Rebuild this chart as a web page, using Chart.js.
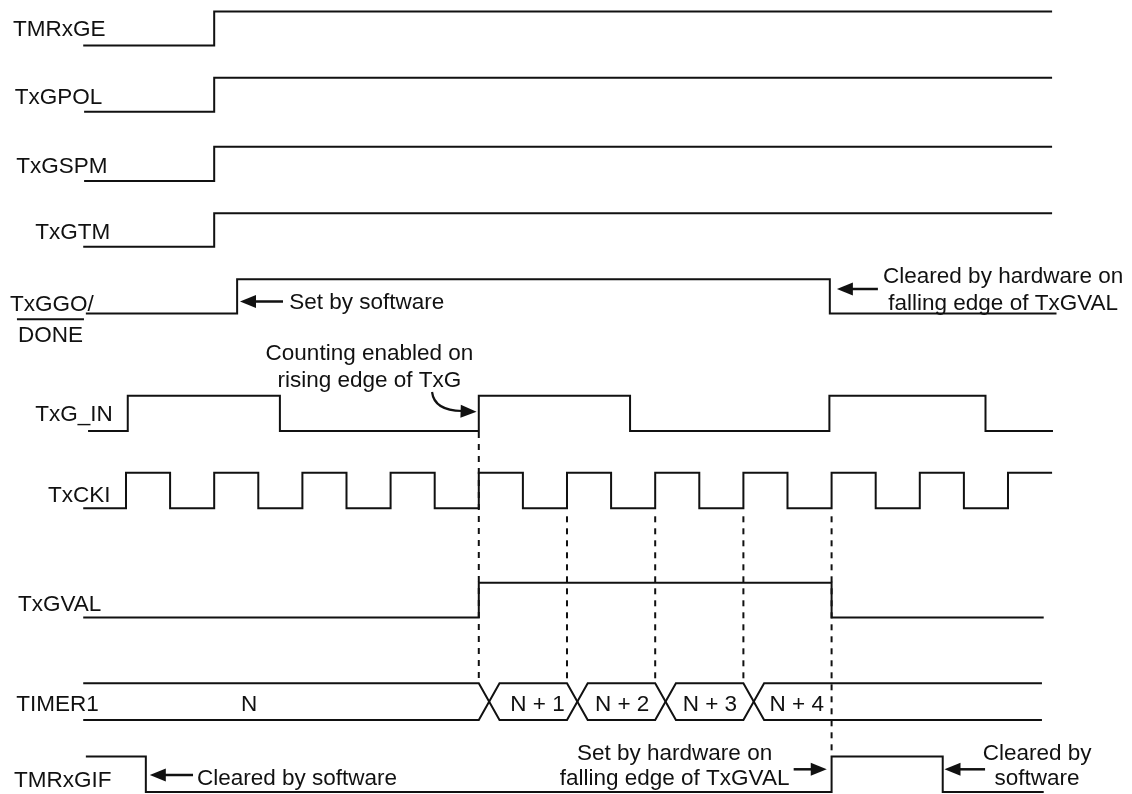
<!DOCTYPE html>
<html>
<head>
<meta charset="utf-8">
<title>Timer1 gate single-pulse timing</title>
<script src="https://cdn.jsdelivr.net/npm/chart.js@4.4.0/dist/chart.umd.min.js"></script>
<style>
  html, body { margin: 0; padding: 0; background: #fff; }
  #wrap { width: 1132px; height: 794px; }
</style>
</head>
<body>
<div id="wrap"><canvas id="timing" width="1132" height="794"></canvas></div>
<script>
// x axis: time in TxCKI half periods, t = 0 at the first rising edge of TxCKI
// y axis: layout units from the top of the figure
const tRange = [-2.857, 22.812];

// edge times (t) of each signal
const tmrxgeEdges = [2.0];
const txgpolEdges = [2.0];
const txgspmEdges = [2.0];
const txgtmEdges = [2.0];
const txggoEdges = [2.52, 15.96];
const txginEdges = [0.04, 3.49, 8.0, 11.43, 15.95, 19.49];
const txckiEdges = [0, 1, 2, 3, 4, 5, 6, 7, 8, 9, 10, 11, 12, 13, 14, 15, 16, 17, 18, 19, 20];
const txgvalEdges = [8.0, 16.0];
const tmrxgifEdges = [0.45, 16.0, 18.52];

// TIMER1 bus: value changes and the value held in each segment
const timerEdges = [8, 10, 12, 14];
const timerValues = ['N', 'N + 1', 'N + 2', 'N + 3', 'N + 4'];
const timerLabelT = [2.79, 9.33, 11.25, 13.24, 15.21];

// dashed reference lines
const markerTimes = [8, 10, 12, 14, 16];

// lane layout (low / high level)
const lanes = {
  TMRxGE:  { low: 45.5,  high: 11.6 },
  TxGPOL:  { low: 111.8, high: 77.8 },
  TxGSPM:  { low: 181,   high: 146.8 },
  TxGTM:   { low: 246.8, high: 213.3 },
  TxGGO:   { low: 313.6, high: 279.2 },
  TxG_IN:  { low: 431,   high: 395.7 },
  TxCKI:   { low: 508.3, high: 472.7 },
  TxGVAL:  { low: 617.5, high: 582.7 },
  TIMER1:  { low: 720,   high: 683.3 },
  TMRxGIF: { low: 792,   high: 756.5 }
};

const signals = [
  { lane: 'TMRxGE',  edges: tmrxgeEdges,  init: 0, from: -0.97, to: 21.0 },
  { lane: 'TxGPOL',  edges: txgpolEdges,  init: 0, from: -0.95, to: 21.0 },
  { lane: 'TxGSPM',  edges: txgspmEdges,  init: 0, from: -0.95, to: 21.0 },
  { lane: 'TxGTM',   edges: txgtmEdges,   init: 0, from: -0.97, to: 21.0 },
  { lane: 'TxGGO',   edges: txggoEdges,   init: 0, from: -0.91, to: 21.1 },
  { lane: 'TxG_IN',  edges: txginEdges,   init: 0, from: -0.86, to: 21.02 },
  { lane: 'TxCKI',   edges: txckiEdges,   init: 0, from: -0.97, to: 21.0 },
  { lane: 'TxGVAL',  edges: txgvalEdges,  init: 0, from: -0.97, to: 20.81 },
  { lane: 'TMRxGIF', edges: tmrxgifEdges, init: 1, from: -0.91, to: 20.81 }
];

const ink = '#111';
const font = '22.5px "Liberation Sans", Arial, sans-serif';

function wave(s) {
  const L = lanes[s.lane];
  const lv = v => (v ? L.high : L.low);
  let cur = s.init;
  const pts = [{ x: s.from, y: lv(cur) }];
  s.edges.forEach(e => {
    pts.push({ x: e, y: lv(cur) });
    cur = 1 - cur;
    pts.push({ x: e, y: lv(cur) });
  });
  pts.push({ x: s.to, y: lv(cur) });
  return pts;
}

function busLine(startHigh, edges, w, from, to) {
  const L = lanes.TIMER1;
  let hi = startHigh;
  const pts = [{ x: from, y: hi ? L.high : L.low }];
  edges.forEach(e => {
    pts.push({ x: e, y: hi ? L.high : L.low });
    hi = !hi;
    pts.push({ x: e + w, y: hi ? L.high : L.low });
  });
  pts.push({ x: to, y: hi ? L.high : L.low });
  return pts;
}

const solid = { showLine: true, borderColor: ink, borderWidth: 2, pointRadius: 0, tension: 0 };

const datasets = [];
signals.forEach(s => datasets.push({ ...solid, label: s.lane, data: wave(s) }));
datasets.push({ ...solid, label: 'TIMER1 a', data: busLine(true, timerEdges, 0.47, -0.97, 20.77) });
datasets.push({ ...solid, label: 'TIMER1 b', data: busLine(false, timerEdges, 0.47, -0.97, 20.77) });
markerTimes.forEach((t, i) => {
  const top = i === 0 ? lanes.TxG_IN.low + 1 : lanes.TxCKI.low + 8;
  const bottom = t === 16 ? lanes.TMRxGIF.high : lanes.TIMER1.high;
  datasets.push({ ...solid, label: 'mark ' + t, borderDash: [6, 6], data: [{ x: t, y: top }, { x: t, y: bottom }] });
});

// text and arrows
const signalLabels = [
  { text: 'TMRxGE',  t: -2.56, y: 36 },
  { text: 'TxGPOL',  t: -2.52, y: 104 },
  { text: 'TxGSPM',  t: -2.49, y: 173 },
  { text: 'TxGTM',   t: -2.06, y: 238.5 },
  { text: 'TxGGO/',  t: -2.63, y: 311 },
  { text: 'DONE',    t: -2.45, y: 341.5 },
  { text: 'TxG_IN',  t: -2.06, y: 420.5 },
  { text: 'TxCKI',   t: -1.77, y: 501.5 },
  { text: 'TxGVAL',  t: -2.45, y: 610.5 },
  { text: 'TIMER1',  t: -2.49, y: 710.5 },
  { text: 'TMRxGIF', t: -2.54, y: 786.5 }
];
const notes = [
  { text: 'Set by software',        t: 3.70,  y: 309,   align: 'left' },
  { text: 'Cleared by hardware on', t: 19.89, y: 282.5, align: 'center' },
  { text: 'falling edge of TxGVAL', t: 19.89, y: 310,   align: 'center' },
  { text: 'Counting enabled on',    t: 5.52,  y: 359.5, align: 'center' },
  { text: 'rising edge of TxG',     t: 5.52,  y: 387,   align: 'center' },
  { text: 'Set by hardware on',     t: 12.44, y: 760,   align: 'center' },
  { text: 'falling edge of TxGVAL', t: 12.44, y: 785,   align: 'center' },
  { text: 'Cleared by',             t: 20.66, y: 760,   align: 'center' },
  { text: 'software',               t: 20.66, y: 785,   align: 'center' },
  { text: 'Cleared by software',    t: 1.61,  y: 785,   align: 'left' }
];
const arrows = [
  { from: 3.56,  to: 2.585, y: 301.5 },
  { from: 17.05, to: 16.12, y: 289 },
  { from: 1.52,  to: 0.54,  y: 775 },
  { from: 15.14, to: 15.89, y: 769.3 },
  { from: 19.48, to: 18.56, y: 769.3 }
];

function drawHead(ctx, tipX, tipY, dir, ang) {
  const len = 16, half = 6.5;
  const c = Math.cos(ang), s = Math.sin(ang);
  const bx = tipX - dir * len * c, by = tipY - dir * len * s;
  ctx.beginPath();
  ctx.moveTo(tipX, tipY);
  ctx.lineTo(bx - half * s, by + half * c);
  ctx.lineTo(bx + half * s, by - half * c);
  ctx.closePath();
  ctx.fill();
}

const timingText = {
  id: 'timingText',
  afterDatasetsDraw(chart) {
    const { ctx, scales: { x, y } } = chart;
    ctx.save();
    ctx.fillStyle = ink;
    ctx.strokeStyle = ink;
    ctx.font = font;
    ctx.textBaseline = 'alphabetic';

    ctx.textAlign = 'left';
    signalLabels.forEach(l => ctx.fillText(l.text, x.getPixelForValue(l.t), y.getPixelForValue(l.y)));
    // overline on DONE
    const done = signalLabels.find(l => l.text === 'DONE');
    const dx = x.getPixelForValue(done.t);
    ctx.lineWidth = 2;
    ctx.beginPath();
    ctx.moveTo(dx - 1, y.getPixelForValue(319.3));
    ctx.lineTo(dx + ctx.measureText('DONE').width + 1, y.getPixelForValue(319.3));
    ctx.stroke();

    ctx.textAlign = 'center';
    timerValues.forEach((v, i) => ctx.fillText(v, x.getPixelForValue(timerLabelT[i]), y.getPixelForValue(710.5)));

    notes.forEach(n => {
      ctx.textAlign = n.align;
      ctx.fillText(n.text, x.getPixelForValue(n.t), y.getPixelForValue(n.y));
    });

    // straight arrows
    arrows.forEach(a => {
      const x0 = x.getPixelForValue(a.from), x1 = x.getPixelForValue(a.to), yy = y.getPixelForValue(a.y);
      const dir = Math.sign(x1 - x0);
      ctx.lineWidth = 2.5;
      ctx.beginPath();
      ctx.moveTo(x0, yy);
      ctx.lineTo(x1 - dir * 12, yy);
      ctx.stroke();
      drawHead(ctx, x1, yy, dir, 0);
    });

    // curved arrow to the TxG_IN rising edge
    const sx = x.getPixelForValue(6.94), sy = y.getPixelForValue(392);
    const cx = x.getPixelForValue(6.99), cy = y.getPixelForValue(410.5);
    const ex = x.getPixelForValue(7.62), ey = y.getPixelForValue(411);
    ctx.lineWidth = 2.2;
    ctx.beginPath();
    ctx.moveTo(sx, sy);
    ctx.quadraticCurveTo(cx, cy, ex, ey);
    ctx.stroke();
    drawHead(ctx, x.getPixelForValue(7.95), y.getPixelForValue(411.8), 1, 0.03);

    ctx.restore();
  }
};

new Chart(document.getElementById('timing'), {
  type: 'scatter',
  data: { datasets },
  options: {
    responsive: false,
    animation: false,
    events: [],
    layout: { padding: 0 },
    scales: {
      x: { type: 'linear', min: tRange[0], max: tRange[1], display: false },
      y: { type: 'linear', min: 0, max: 794, reverse: true, display: false }
    },
    plugins: { legend: { display: false }, tooltip: { enabled: false } }
  },
  plugins: [timingText]
});
</script>
</body>
</html>
